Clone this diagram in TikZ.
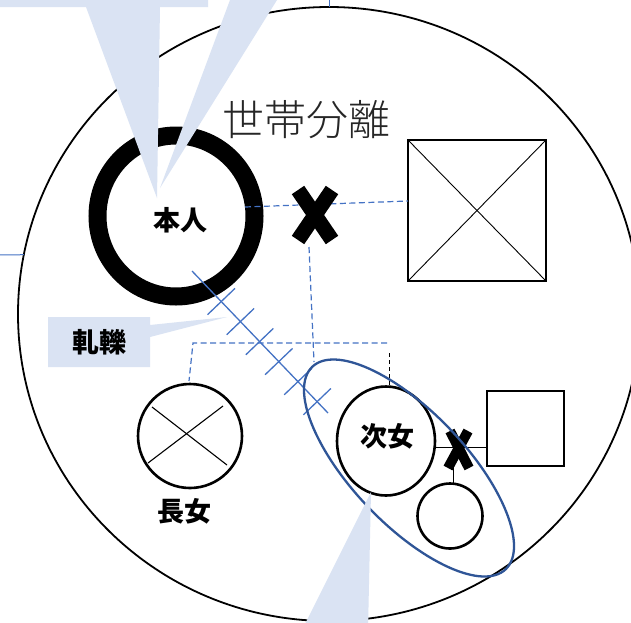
\documentclass[tikz,border=0pt]{standalone}
\usepackage{fontspec}
\newfontfamily\cjk{Noto Sans CJK JP}
\newfontfamily\cjklight{Noto Sans CJK JP Light}
\usetikzlibrary{calc,shapes.geometric}
\definecolor{callout}{HTML}{DAE3F3}
\definecolor{lineblue}{HTML}{4472C4}
\definecolor{darkblue}{HTML}{2F5597}
\begin{document}
\begin{tikzpicture}[x=1pt,y=-1pt,line join=miter,
  bluedash/.style={lineblue,line width=1.2pt,dash pattern=on 6pt off 3.5pt},
  blackdash/.style={black,line width=1pt,dash pattern=on 4pt off 3pt},
  person/.style={draw,line width=2.6pt,inner sep=0pt,outer sep=0pt},
  boldlbl/.style={font=\cjk\bfseries\fontsize{27pt}{30pt}\selectfont,inner sep=0pt},
  bigx/.style={line width=15pt,line cap=butt},
  smallx/.style={line width=10pt,line cap=butt},
  conflict/.style={lineblue,line width=1.3pt}]
\useasboundingbox (0,0) rectangle (631,622);
\clip (0,0) rectangle (631,622);
\fill[white] (0,0) rectangle (631,622);

% outer family boundary
\node[draw,ellipse,minimum width=622pt,minimum height=614pt,line width=1.8pt,inner sep=0pt,outer sep=0pt] (family) at (329,314) {};
\coordinate (topIn) at (329,-2);
\coordinate (leftIn) at (-2,255);
\draw[lineblue,line width=1pt] (topIn) -- (family.north);
\draw[lineblue,line width=1pt] (leftIn) -- (family.169);

% self
\node[draw,ellipse,minimum width=157pt,minimum height=161pt,line width=18pt,inner sep=0pt,outer sep=0pt] (honnin) at (176,216) {};
\node[boldlbl] (honninT) at (180,220) {本人};

% separated household label
\node[font=\cjklight\fontsize{42pt}{44pt}\selectfont,text=black!85,inner sep=0pt] (sep) at (306,120) {世帯分離};

% right square (deceased male)
\node[person,line width=2.8pt,minimum width=138pt,minimum height=141pt] (sqA) at (477,210.5) {};
\draw[line width=0.9pt] (sqA.north west) -- (sqA.south east);
\draw[line width=0.9pt] (sqA.north east) -- (sqA.south west);

% dashed connections
\coordinate (hIn) at (245,207);
\coordinate (sqIn) at (408,201);
\coordinate (xAbot) at (309,247);
\coordinate (ellTop) at (314,362);
\coordinate (barL) at (193,343);
\coordinate (barR) at (387,343);
\draw[bluedash] (hIn) -- (sqIn);
\draw[bluedash] (xAbot) -- (ellTop);
\draw[bluedash] (barR) -- (barL) -- (189,381);

% X on the marriage line
\coordinate (xA) at (315,214);
\draw[bigx] (298,190) -- (332,240);
\draw[bigx] (332,190) -- (298,240);

% eldest daughter
\node[person,circle,minimum size=104pt] (chojo) at (190,436) {};
\draw[line width=1.1pt] (152,407) -- (227,465);
\draw[line width=1.1pt] (148,463) -- (223,406);
\node[boldlbl] (chojoT) at (184,511) {長女};

% second daughter
\node[person,ellipse,minimum width=98pt,minimum height=109pt] (jijo) at (386,441) {};
\node[boldlbl] (jijoT) at (387,436) {次女};
\coordinate (jijoUp) at (389,353);
\draw[blackdash] (jijoUp) -- (jijoUp |- jijo.north);

% spouse of second daughter and child
\node[person,minimum width=77pt,minimum height=75pt] (sqB) at (525.5,428.5) {};
\node[person,circle,minimum size=65pt] (grand) at (450,516) {};
\draw[line width=1pt] (435,447) -- (487,447);
\draw[smallx] (450,431) -- (469,468);
\draw[smallx] (468,431) -- (448,468);
\draw[line width=1pt] (453,468) -- (grand.north -| 453,0);

% conflict line with hatches
\coordinate (cA) at (192,271);
\coordinate (cB) at (328,413);
\draw[conflict] (cA) -- (cB);
\foreach \t in {0.215,0.356,0.497,0.638,0.779,0.92}{
  \coordinate (m) at ($(cA)!\t!(cB)$);
  \draw[conflict] ($(m)!19pt!90:(cB)$) -- ($(m)!19pt!-90:(cB)$);
}

% household group ellipse
\draw[darkblue,line width=2.3pt,rotate around={-46.3:(409,468)}] (409,468) ellipse [x radius=140, y radius=56.5];

% callouts
\fill[callout] (-5,-30) -- (208,-30) -- (208,7) -- (160,7) -- (157,198) -- (86,7) -- (-5,7) -- cycle;
\fill[callout] (226,-30) -- (290,-30) -- (277,0) -- (160,188) -- (230,0) -- cycle;
\fill[callout] (48,317) -- (150,317) -- (150,325) -- (227,317) -- (150,337) -- (150,367) -- (48,367) -- cycle;
\node[boldlbl] (conflictT) at (99,342) {軋轢};
\fill[callout] (371,492) -- (368,630) -- (302,630) -- cycle;
\end{tikzpicture}
\end{document}
